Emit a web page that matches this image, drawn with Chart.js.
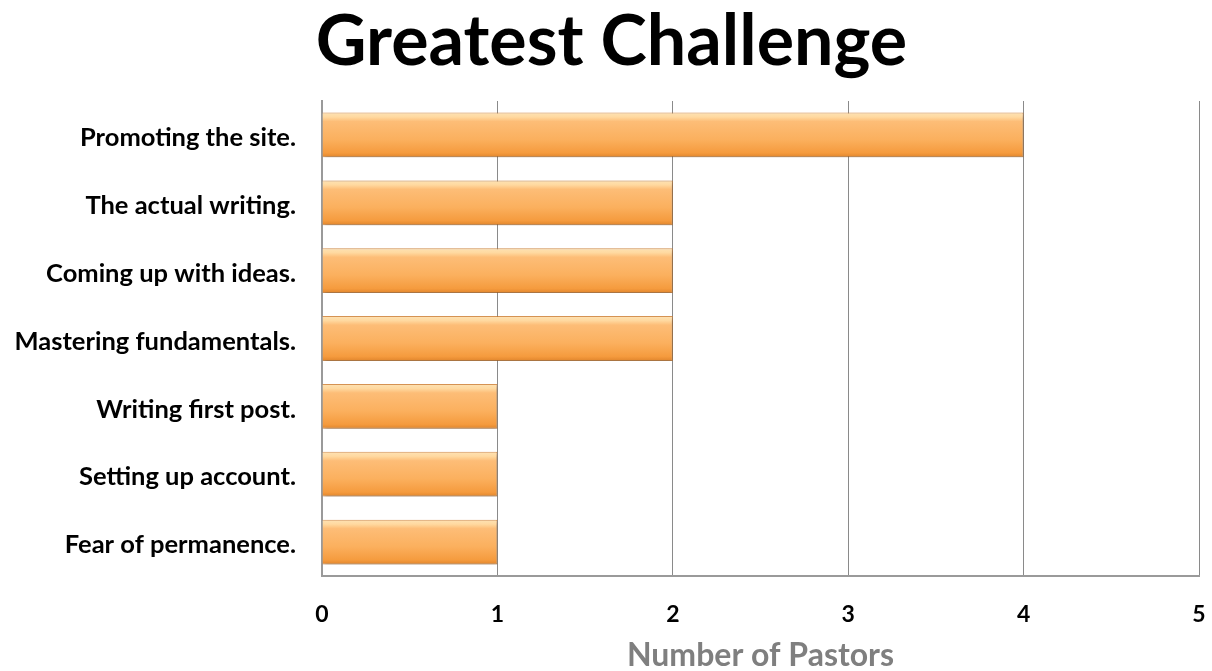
<!DOCTYPE html>
<html>
<head>
<meta charset="utf-8">
<script src="https://cdn.jsdelivr.net/npm/chart.js@4.4.0/dist/chart.umd.min.js"></script>
<style>
    html, body { margin: 0; padding: 0; background: #fff; overflow: hidden; }
    #wrap { width: 1212px; height: 671px; overflow: hidden; }
</style>
</head>
<body>
<div id="wrap">
    <canvas id="challengeChart" width="1212" height="686"></canvas>
</div>
<script>
const challenges = [
    'Promoting the site.',
    'The actual writing.',
    'Coming up with ideas.',
    'Mastering fundamentals.',
    'Writing first post.',
    'Setting up account.',
    'Fear of permanence.'
];
const pastorCounts = [4, 2, 2, 2, 1, 1, 1];
const xTicks = [0, 1, 2, 3, 4, 5];

const FONT = "Lato, 'Open Sans', sans-serif";
const BAR_SHARE = 0.66;

// vertical orange gradient for each bar, light rim on top and darker base
function barGradient(context) {
    const chart = context.chart;
    const yScale = chart.scales.y;
    if (!yScale || !chart.chartArea) return '#fbb262';
    const cy = yScale.getPixelForValue(context.dataIndex);
    const h = (yScale.height / challenges.length) * BAR_SHARE;
    const g = chart.ctx.createLinearGradient(0, cy - h / 2, 0, cy + h / 2);
    g.addColorStop(0, '#fde2b4');
    g.addColorStop(0.1, '#ffd9a0');
    g.addColorStop(0.2, '#fdbd77');
    g.addColorStop(0.6, '#fbb05e');
    g.addColorStop(0.9, '#f59b3e');
    g.addColorStop(1, '#e0852c');
    return g;
}

// soft shadow beneath the bars
const barShadow = {
    id: 'barShadow',
    beforeDatasetsDraw(chart) {
        const c = chart.ctx;
        c.save();
        c.shadowColor = 'rgba(0, 0, 0, 0.3)';
        c.shadowBlur = 4;
        c.shadowOffsetX = 1;
        c.shadowOffsetY = 2;
    },
    afterDatasetsDraw(chart) {
        chart.ctx.restore();
    }
};

// nudge the title a little right so it sits over the middle of the page
const titleNudge = {
    id: 'titleNudge',
    afterLayout(chart) {
        const t = chart.titleBlock;
        if (t) {
            t.left += 7;
            t.right += 7;
        }
    }
};

new Chart(document.getElementById('challengeChart'), {
    type: 'bar',
    data: {
        labels: challenges,
        datasets: [{
            label: 'Number of Pastors',
            data: pastorCounts,
            backgroundColor: barGradient,
            borderColor: 'rgba(214, 128, 45, 0.8)',
            borderWidth: 1,
            categoryPercentage: BAR_SHARE,
            barPercentage: 1
        }]
    },
    options: {
        indexAxis: 'y',
        responsive: false,
        animation: false,
        layout: { padding: { left: 10, right: 13, top: 0, bottom: 0 } },
        plugins: {
            legend: { display: false },
            tooltip: { enabled: false },
            title: {
                display: true,
                text: 'Greatest Challenge',
                color: '#000',
                font: { family: FONT, size: 70, weight: 'bold' },
                padding: { top: 0, bottom: 17 }
            }
        },
        scales: {
            x: {
                min: 0,
                max: 5,
                afterBuildTicks(scale) {
                    scale.ticks = xTicks.map(v => ({ value: v }));
                },
                afterFit(scale) { scale.height = 110; },
                // gap under the axis comes from an invisible tick mark so the
                // last label does not push the plot in from the right
                grid: {
                    color: '#8a8a8a',
                    lineWidth: 1,
                    drawTicks: true,
                    tickLength: 25,
                    tickColor: 'rgba(0,0,0,0)'
                },
                border: { display: true, color: '#9a9a9a', width: 2 },
                ticks: {
                    color: '#000',
                    padding: 0,
                    font: { family: FONT, size: 23, weight: 'bold' }
                },
                title: {
                    display: true,
                    text: 'Number of Pastors',
                    color: '#7f7f7f',
                    font: { family: FONT, size: 32, weight: 'bold' },
                    padding: { top: 0, bottom: 11 }
                }
            },
            y: {
                afterFit(scale) { scale.width = 312; },
                grid: { display: false },
                border: { display: true, color: '#9a9a9a', width: 2 },
                ticks: {
                    color: '#000',
                    padding: 18,
                    labelOffset: 3,
                    font: { family: FONT, size: 25.5, weight: 'bold' }
                }
            }
        }
    },
    plugins: [barShadow, titleNudge]
});
</script>
</body>
</html>
